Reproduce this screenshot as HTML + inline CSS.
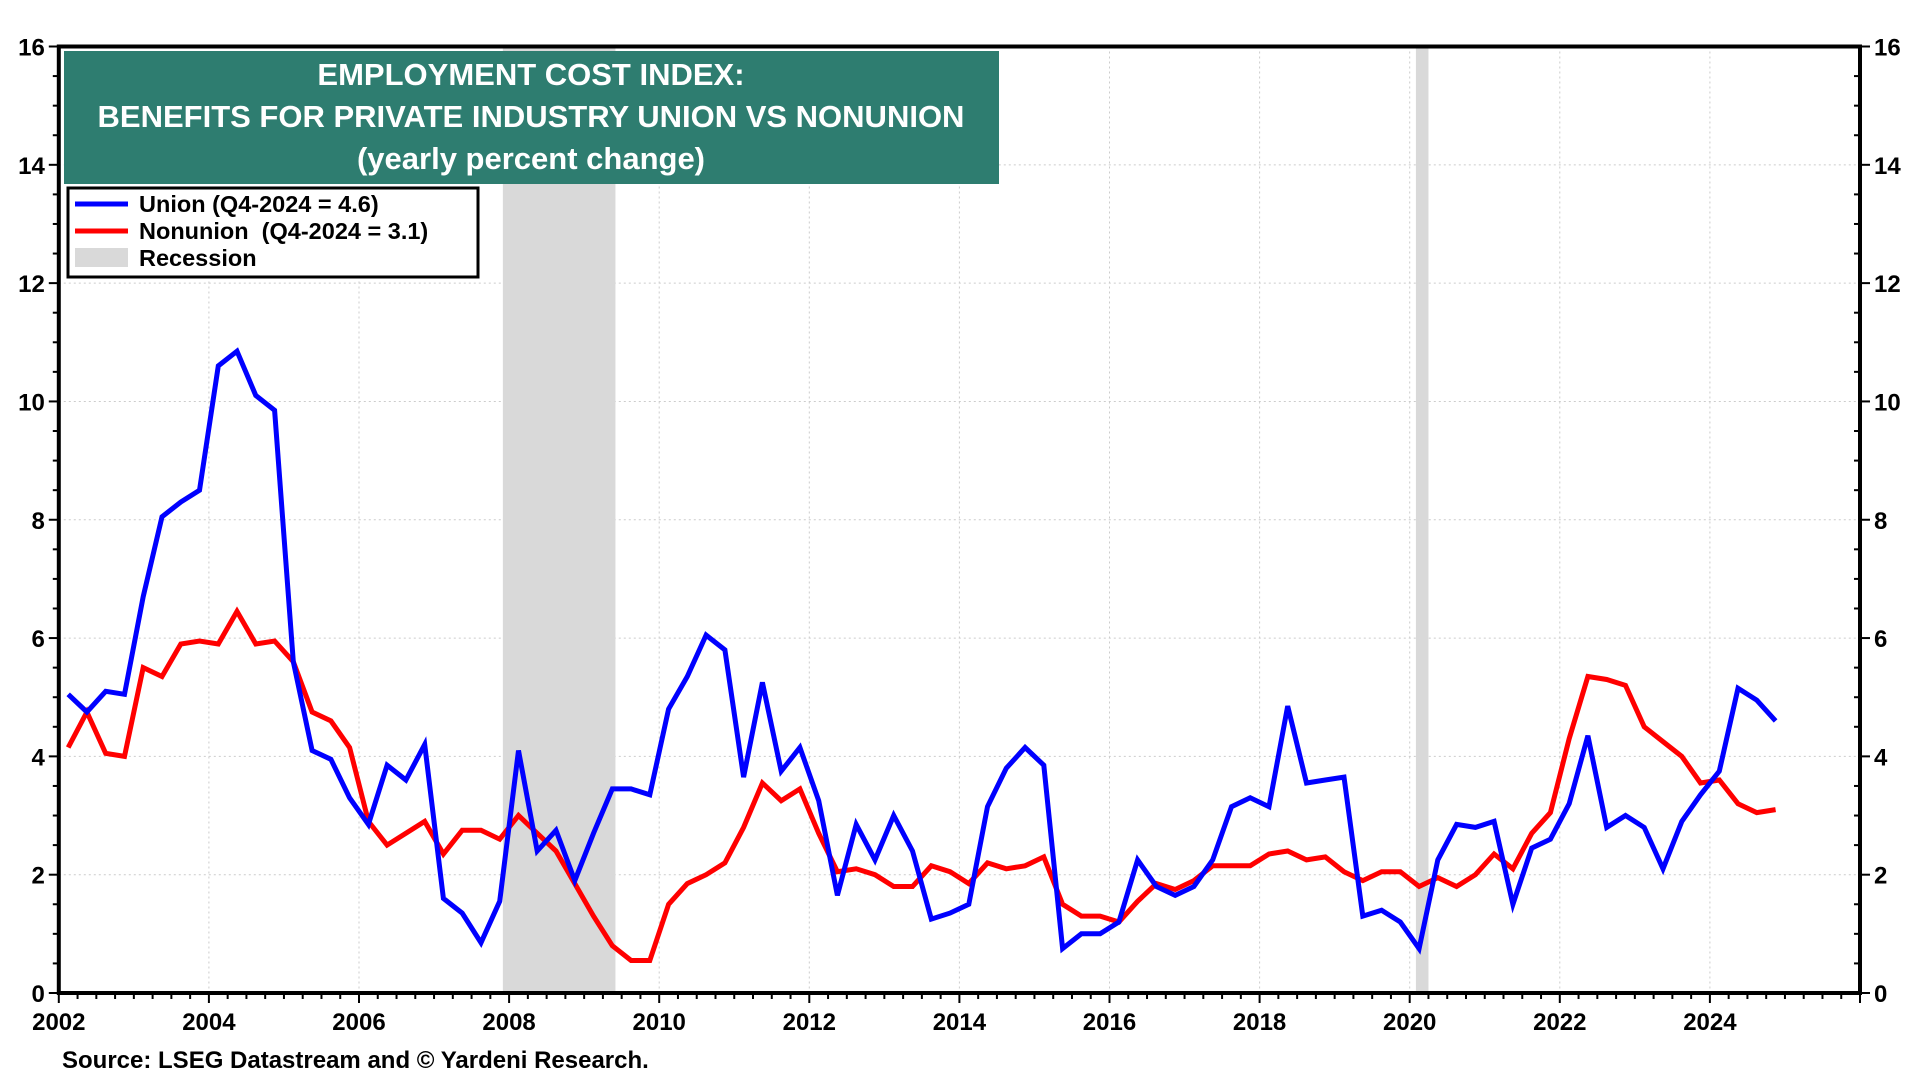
<!DOCTYPE html>
<html><head><meta charset="utf-8"><style>
html,body{margin:0;padding:0;background:#fff;width:1920px;height:1080px;overflow:hidden}
svg{display:block;font-family:"Liberation Sans",Arial,sans-serif;font-weight:bold}
</style></head><body>
<svg id="chart" width="1920" height="1080" viewBox="0 0 1920 1080" xmlns="http://www.w3.org/2000/svg">
<g id="grid"></g>
<g id="recess"></g>
<g id="lines"></g>
<g id="axes"></g>
<g>
<rect x="64" y="51" width="935" height="133" fill="#2e7d70"/>
<text x="531" y="85" fill="#fff" font-size="31" text-anchor="middle">EMPLOYMENT COST INDEX:</text>
<text x="531" y="127" fill="#fff" font-size="31" text-anchor="middle">BENEFITS FOR PRIVATE INDUSTRY UNION VS NONUNION</text>
<text x="531" y="169" fill="#fff" font-size="31" text-anchor="middle">(yearly percent change)</text>
</g>
<g>
<rect x="68" y="188" width="410" height="89" fill="#fff" stroke="#000" stroke-width="3"/>
<line x1="75" y1="204" x2="128" y2="204" stroke="#0000ff" stroke-width="5"/>
<text x="139" y="212" font-size="23.5">Union (Q4-2024 = 4.6)</text>
<line x1="75" y1="231" x2="128" y2="231" stroke="#ff0000" stroke-width="5"/>
<text x="139" y="239" font-size="23.5">Nonunion&#160; (Q4-2024 = 3.1)</text>
<rect x="75" y="248" width="53" height="19" fill="#d9d9d9"/>
<text x="139" y="266" font-size="23.5">Recession</text>
</g>
<text x="62" y="1068" font-size="24">Source: LSEG Datastream and © Yardeni Research.</text>
</svg>
<script>
const union=[5.05,4.75,5.1,5.05,6.7,8.05,8.3,8.5,10.6,10.85,10.1,9.85,5.6,4.1,3.95,3.3,2.85,3.85,3.6,4.2,1.6,1.35,0.85,1.55,4.1,2.4,2.75,1.9,2.7,3.45,3.45,3.35,4.8,5.35,6.05,5.8,3.65,5.25,3.75,4.15,3.25,1.65,2.85,2.25,3.0,2.4,1.25,1.35,1.5,3.15,3.8,4.15,3.85,0.75,1.0,1.0,1.2,2.25,1.8,1.65,1.8,2.25,3.15,3.3,3.15,4.85,3.55,3.6,3.65,1.3,1.4,1.2,0.75,2.25,2.85,2.8,2.9,1.5,2.45,2.6,3.2,4.35,2.8,3.0,2.8,2.1,2.9,3.35,3.75,5.15,4.95,4.6];
const nonunion=[4.15,4.75,4.05,4.0,5.5,5.35,5.9,5.95,5.9,6.45,5.9,5.95,5.6,4.75,4.6,4.15,2.9,2.5,2.7,2.9,2.35,2.75,2.75,2.6,3.0,2.7,2.4,1.85,1.3,0.8,0.55,0.55,1.5,1.85,2.0,2.2,2.8,3.55,3.25,3.45,2.7,2.05,2.1,2.0,1.8,1.8,2.15,2.05,1.85,2.2,2.1,2.15,2.3,1.5,1.3,1.3,1.2,1.55,1.85,1.75,1.9,2.15,2.15,2.15,2.35,2.4,2.25,2.3,2.05,1.9,2.05,2.05,1.8,1.95,1.8,2.0,2.35,2.1,2.7,3.05,4.3,5.35,5.3,5.2,4.5,4.25,4.0,3.55,3.6,3.2,3.05,3.1];
const startYear=2002;
const yTicks=[0,2,4,6,8,10,12,14,16];
const xTicks=[2002,2004,2006,2008,2010,2012,2014,2016,2018,2020,2022,2024];
const recessions=[[2007.917,2009.417],[2020.083,2020.25]];
const L=58.8,R=1860,T=46.5,B=993,X0=2002,X1=2026,Y1=16;
const sx=v=>L+(v-X0)*(R-L)/(X1-X0);
const sy=v=>B-v*(B-T)/Y1;
const NS="http://www.w3.org/2000/svg";
function mk(tag,attrs,parent){const e=document.createElementNS(NS,tag);for(const k in attrs)e.setAttribute(k,attrs[k]);parent.appendChild(e);return e;}
const grid=document.getElementById('grid'),rec=document.getElementById('recess'),lines=document.getElementById('lines'),axes=document.getElementById('axes');
yTicks.forEach(v=>{if(v>0&&v<16){const g=mk('line',{x1:L,x2:R,y1:sy(v),y2:sy(v),stroke:'#ccc','stroke-width':1,'stroke-dasharray':'2,3'},grid);

}});
xTicks.forEach(v=>{if(v>2002){const g=mk('line',{x1:sx(v),x2:sx(v),y1:T,y2:B,stroke:'#ccc','stroke-width':1,'stroke-dasharray':'2,3'},grid);

}});
recessions.forEach(r=>{const e=mk('rect',{x:sx(r[0]),y:T,width:sx(r[1])-sx(r[0]),height:B-T,fill:'#d9d9d9'},rec);

});
function series(arr,color,name){const pts=arr.map((v,i)=>sx(startYear+i*0.25+0.125).toFixed(1)+','+sy(v).toFixed(1)).join(' ');
const p=mk('polyline',{points:pts,fill:'none',stroke:color,'stroke-width':5,'stroke-linejoin':'miter'},lines);

}
series(nonunion,'#ff0000','nonunion-line');
series(union,'#0000ff','union-line');
mk('rect',{x:L,y:T,width:R-L,height:B-T,fill:'none',stroke:'#000','stroke-width':4},axes);
for(let v=0;v<=16.001;v+=0.5){const maj=Math.abs(v-Math.round(v/2)*2)<1e-6;
mk('line',{x1:L-(maj?10:6),x2:L,y1:sy(v),y2:sy(v),stroke:'#000','stroke-width':2},axes);
mk('line',{x1:R,x2:R+(maj?10:0),y1:sy(v),y2:sy(v),stroke:'#000','stroke-width':2},axes);
if(!maj)mk('line',{x1:R-6,x2:R,y1:sy(v),y2:sy(v),stroke:'#000','stroke-width':2},axes);}
yTicks.forEach(v=>{const a=mk('text',{x:L-14,y:sy(v)+9,'font-size':24,'text-anchor':'end'},axes);a.textContent=v;


const b=mk('text',{x:R+14,y:sy(v)+9,'font-size':24},axes);b.textContent=v;

});
for(let v=2002;v<=2026.001;v+=0.25){const maj=Math.abs(v-Math.round(v))<1e-6&&Math.round(v)%2===0;
mk('line',{x1:sx(v),x2:sx(v),y1:B,y2:B+(maj?10:6),stroke:'#000','stroke-width':2},axes);}
xTicks.forEach(v=>{const t=mk('text',{x:sx(v),y:B+37,'font-size':24,'text-anchor':'middle'},axes);t.textContent=v;

});
</script>
</body></html>
